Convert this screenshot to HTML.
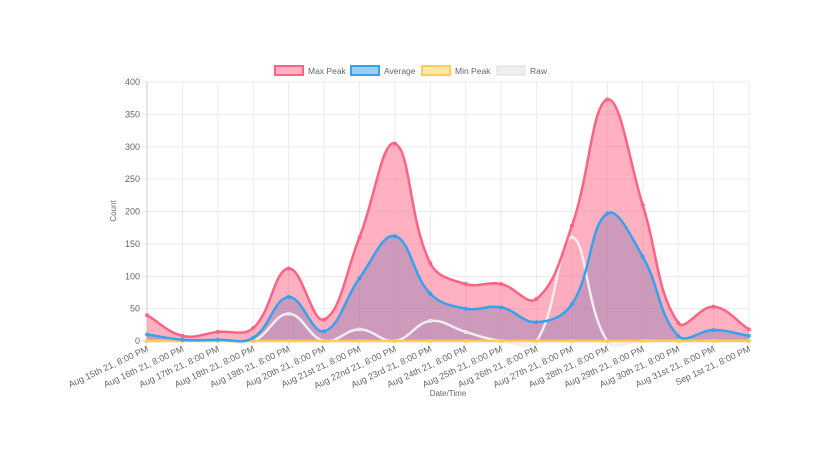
<!DOCTYPE html>
<html><head><meta charset="utf-8"><style>
html,body{margin:0;padding:0;background:#fff;width:824px;height:462px;overflow:hidden}
svg{display:block;font-family:"Liberation Sans",sans-serif}
</style></head><body>
<svg id="c" width="824" height="462" xmlns="http://www.w3.org/2000/svg"></svg>
<script>
const svg=document.getElementById('c');
const X0=147,X1=749,Y0=341,Y1=82;
const labels=["Aug 15th 21, 8:00 PM","Aug 16th 21, 8:00 PM","Aug 17th 21, 8:00 PM","Aug 18th 21, 8:00 PM","Aug 19th 21, 8:00 PM","Aug 20th 21, 8:00 PM","Aug 21st 21, 8:00 PM","Aug 22nd 21, 8:00 PM","Aug 23rd 21, 8:00 PM","Aug 24th 21, 8:00 PM","Aug 25th 21, 8:00 PM","Aug 26th 21, 8:00 PM","Aug 27th 21, 8:00 PM","Aug 28th 21, 8:00 PM","Aug 29th 21, 8:00 PM","Aug 30th 21, 8:00 PM","Aug 31st 21, 8:00 PM","Sep 1st 21, 8:00 PM"];
const n=labels.length,dx=(X1-X0)/(n-1);
const xp=i=>X0+i*dx, yp=v=>Y0-v*(Y0-Y1)/400;
let h='';
for(let i=0;i<n;i++){h+=`<line x1="${xp(i)}" y1="${Y1}" x2="${xp(i)}" y2="${Y0+5}" stroke="#ebebeb"/>`;}
for(let v=0;v<=400;v+=50){const y=yp(v);h+=`<line x1="${X0-5}" y1="${y}" x2="${X1}" y2="${y}" stroke="${v==0?'#ccc':'#ebebeb'}"/><text x="${X0-7}" y="${y+3}" font-size="9" fill="#666" text-anchor="end">${v}</text>`;}
h+=`<line x1="${X0}" y1="${Y1}" x2="${X0}" y2="${Y0}" stroke="#ccc"/>`;
function path(vals){
  const P=vals.map((v,i)=>[xp(i),yp(v)]);const t=0.4;const cps=[];
  for(let i=0;i<P.length;i++){
    const p=P[Math.max(0,i-1)],c=P[i],nx=P[Math.min(P.length-1,i+1)];
    const d01=Math.hypot(c[0]-p[0],c[1]-p[1]),d12=Math.hypot(nx[0]-c[0],nx[1]-c[1]);
    let s01=d01/(d01+d12),s12=d12/(d01+d12);if(isNaN(s01))s01=0;if(isNaN(s12))s12=0;
    const fa=t*s01,fb=t*s12;
    cps.push([[c[0]-fa*(nx[0]-p[0]),c[1]-fa*(nx[1]-p[1])],[c[0]+fb*(nx[0]-p[0]),c[1]+fb*(nx[1]-p[1])]]);
  }
  let d=`M${P[0][0]},${P[0][1]}`;
  for(let i=1;i<P.length;i++){d+=` C${cps[i-1][1][0]},${cps[i-1][1][1]} ${cps[i][0][0]},${cps[i][0][1]} ${P[i][0]},${P[i][1]}`;}
  return {d,P};
}
const ds=[
 {v:[40,8,14,20,112,33,160,305,120,88,88,65,178,373,210,28,53,18],c:'255,99,132'},
 {v:[10,2,2,5,68,15,97,162,73,50,52,29,57,197,130,8,17,8],c:'54,162,235'},
 {v:new Array(18).fill(0),c:'255,205,86'},
 {v:[0,0,0,0,42,0,18,0,31,14,0,0,160,0,0,0,0,0],c:'201,203,207',line:'#f0eef0'}
];
let fills='',lines='';
ds.forEach(s=>{const {d,P}=path(s.v);
 fills=`<path d="${d} L${X1},${Y0} L${X0},${Y0}Z" fill="rgba(${s.c},${s.c=='201,203,207'?0.15:0.5})"/>`+fills;
 let l=`<path d="${d}" fill="none" stroke="${s.line||'rgb('+s.c+')'}" stroke-width="2.5"/>`;
 P.forEach(p=>{l+=`<circle cx="${p[0]}" cy="${p[1]}" r="1.5" fill="rgba(${s.c},0.5)" stroke="${s.line||'rgb('+s.c+')'}"/>`;});
 lines=l+lines;});
h+=fills+lines;
labels.forEach((l,i)=>{const x=xp(i)+2,y=Y0+10;h+=`<text transform="translate(${x},${y}) rotate(-25)" font-size="9" fill="#666" text-anchor="end">${l}</text>`;});
h+=`<text transform="translate(116,211) rotate(-90)" font-size="8" fill="#666" text-anchor="middle">Count</text>`;
h+=`<text x="448" y="396" font-size="8" fill="#666" text-anchor="middle">Date/Time</text>`;
const lg=[['Max Peak',275,'255,99,132'],['Average',351,'54,162,235'],['Min Peak',422,'255,205,86'],['Raw',497,'201,203,207']];
lg.forEach(([t,x,c])=>{h+=`<rect x="${x}" y="66" width="28" height="9" fill="rgba(${c},${c=='201,203,207'?0.3:0.5})" stroke="${c=='201,203,207'?'rgba(201,203,207,0.3)':'rgb('+c+')'}" stroke-width="2"/><text x="${x+33}" y="74" font-size="8.5" fill="#666">${t}</text>`;});
svg.innerHTML=h;
</script>
</body></html>
